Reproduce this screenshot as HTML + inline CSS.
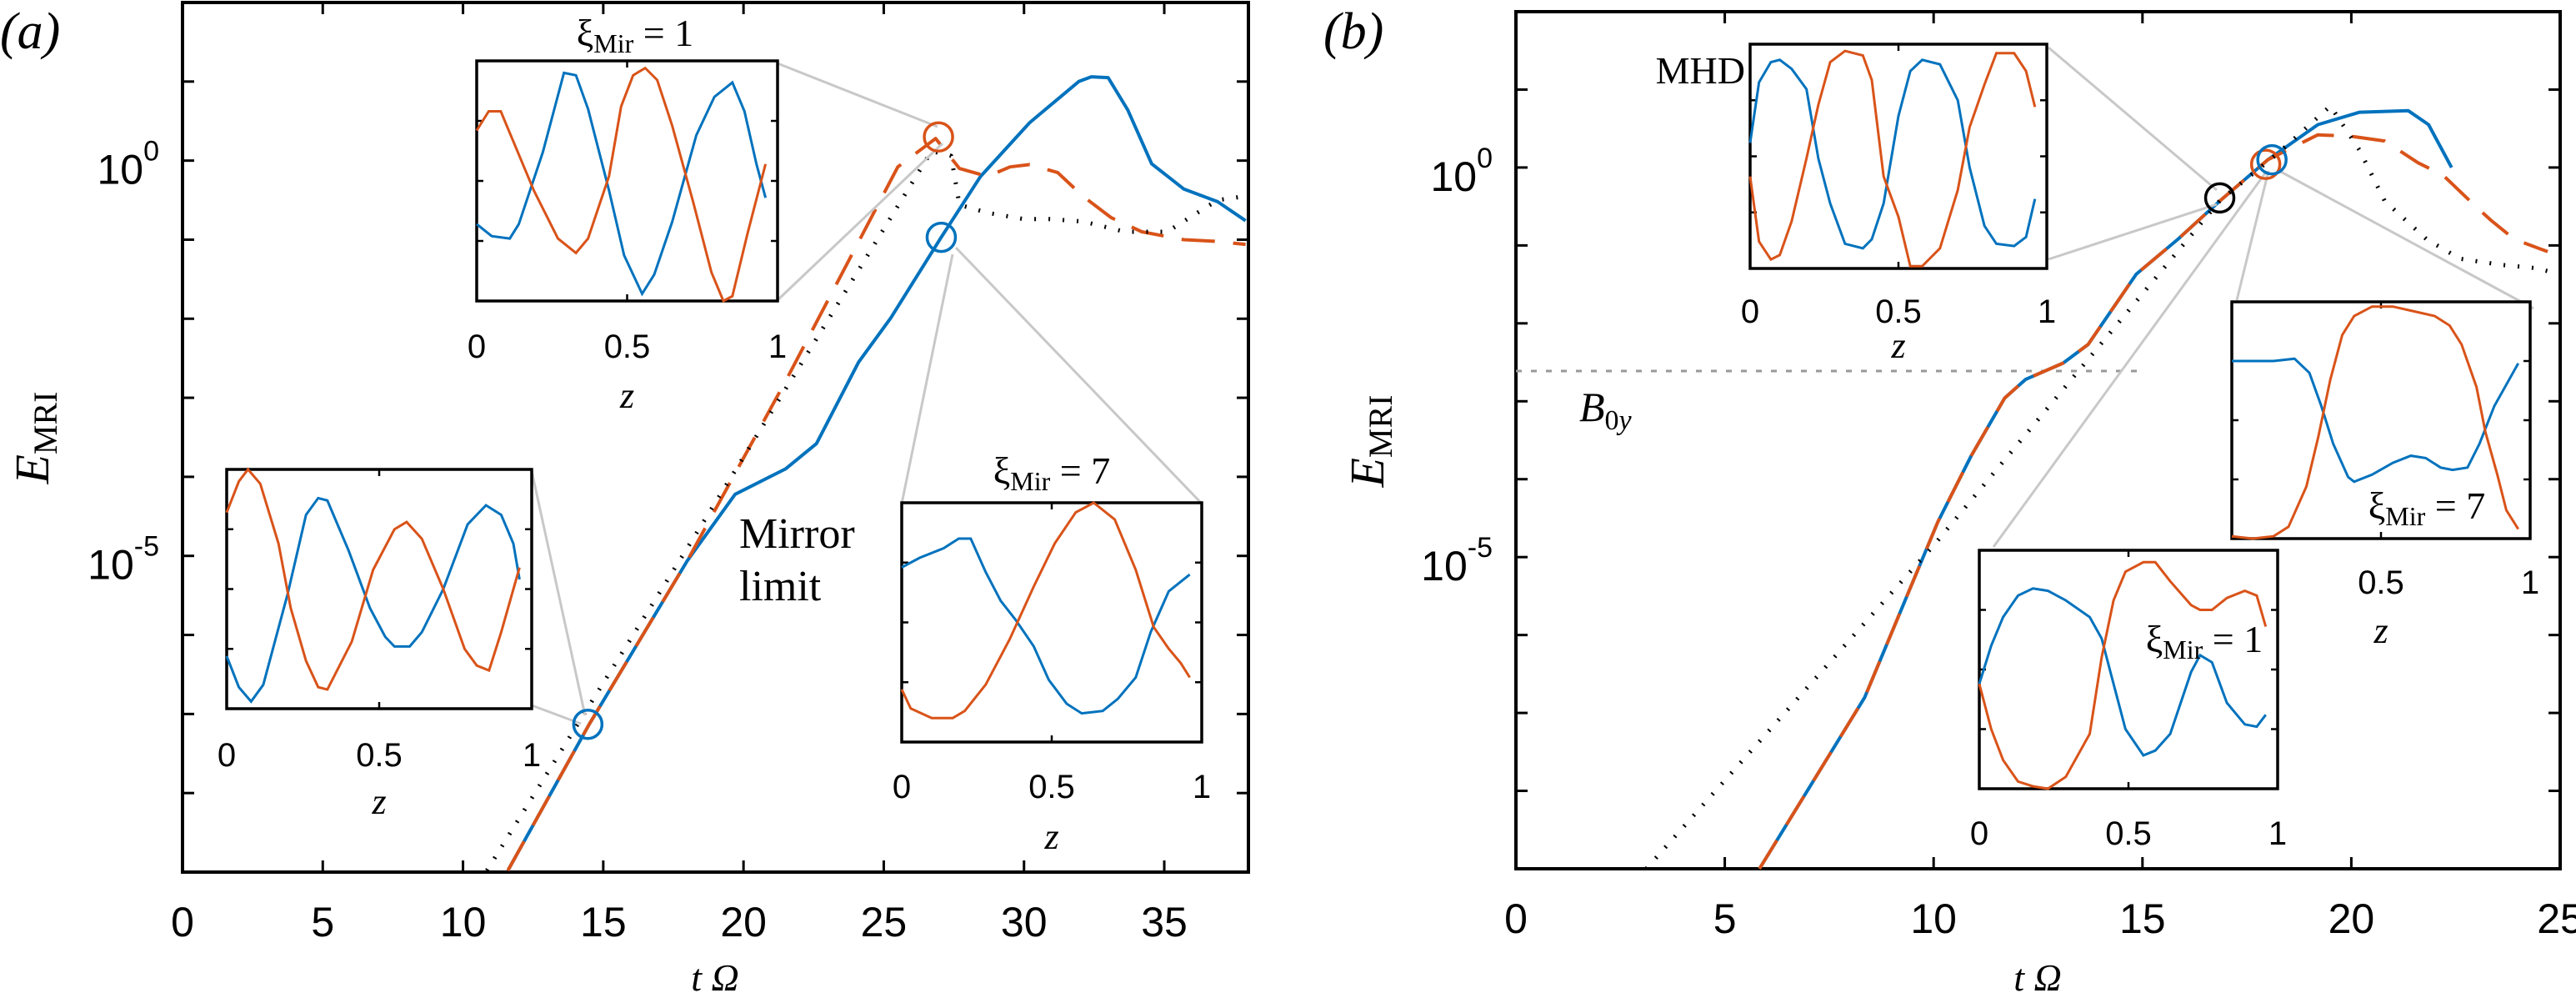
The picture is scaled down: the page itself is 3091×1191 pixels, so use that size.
<!DOCTYPE html>
<html><head><meta charset="utf-8"><style>
html,body{margin:0;padding:0;background:#fff;}
svg{display:block;}
.tk{font-family:"Liberation Sans",Arial,sans-serif;font-size:50px;fill:#000;}
.itk{font-family:"Liberation Sans",Arial,sans-serif;font-size:40px;fill:#000;}
.sf{font-family:"Liberation Serif","Times New Roman",serif;fill:#000;}
</style></head><body>
<svg id="fig" width="3091" height="1191" viewBox="0 0 3091 1191" xmlns="http://www.w3.org/2000/svg"></svg>
<script>
// ===== Panel (a) main series: time t and log10(E_MRI) =====
const aDotT   = [10.85, 14.4, 18, 22, 26.7, 27.4, 27.7, 28.7, 30.0, 30.9, 32.1, 33.6, 35.1, 36.9, 37.9];
const aDotLog = [-8.98, -6.95, -4.9, -2.6, 0.12, 0.06, -0.56, -0.66, -0.74, -0.74, -0.77, -0.9, -0.9, -0.5, -0.45];
const aOrT    = [11.6, 14.5, 18, 21.5, 25.5, 26.85, 27.7, 28.7, 29.5, 30.2, 31.2, 32.1, 33.1, 34.2, 35.7, 36.8, 37.9];
const aOrLog  = [-8.98, -7.13, -5.06, -2.79, -0.08, 0.28, -0.1, -0.2, -0.08, -0.05, -0.15, -0.45, -0.72, -0.9, -1.0, -1.02, -1.06];
const aBlT    = [11.6, 14.5, 18, 19.7, 21.5, 22.6, 24.1, 25.25, 27.05, 28.45, 30.2, 31.95, 32.4, 33.0, 33.7, 34.55, 35.7, 36.9, 37.9];
const aBlLog  = [-8.98, -7.13, -5.06, -4.22, -3.9, -3.58, -2.55, -1.99, -0.97, -0.2, 0.48, 1.0, 1.06, 1.05, 0.64, -0.04, -0.36, -0.52, -0.76];
// ===== Panel (b) main series =====
const bDotT   = [3.12, 10, 16.86, 18.24, 19.5, 20.2, 20.8, 21.8, 22.6, 23.6, 24.4, 25];
const bDotLog = [-9.0, -4.85, -0.42, 0.18, 0.79, 0.22, -0.43, -0.92, -1.17, -1.25, -1.29, -1.37];
const bBlT    = [5.83, 8.35, 10.1, 10.9, 11.7, 12.2, 13.1, 13.7, 14.85, 15.85, 16.85, 18.0, 19.2, 20.2, 21.36, 21.85, 22.4];
const bBlLog  = [-9.0, -6.8, -4.55, -3.7, -2.96, -2.72, -2.51, -2.27, -1.37, -0.92, -0.43, 0.1, 0.55, 0.71, 0.73, 0.55, 0.0];
const bOrT    = [5.83, 8.35, 10.1, 10.9, 11.7, 12.2, 13.1, 13.7, 14.85, 15.85, 16.85, 18.0, 19.2, 20.0, 20.8, 21.6, 22.2, 23.0, 23.35, 23.9, 24.7];
const bOrLog  = [-9.0, -6.8, -4.55, -3.7, -2.96, -2.72, -2.51, -2.27, -1.37, -0.92, -0.43, 0.1, 0.42, 0.4, 0.34, 0.06, -0.1, -0.51, -0.68, -0.92, -1.08];
// ===== Ticks =====
const aXTicks = [0, 5, 10, 15, 20, 25, 30, 35];
const bXTicks = [0, 5, 10, 15, 20, 25];
const yDecades = [2, 1, 0, -1, -2, -3, -4, -5, -6, -7, -8, -9];
const yLabelDecades = [0, -5];
const insetTicks = [0, 0.5, 1];
// ===== Inset profiles (z, normalized amplitude) =====
const a1Z  = [0,0.05,0.11,0.14,0.22,0.29,0.33,0.37,0.44,0.49,0.55,0.59,0.65,0.73,0.79,0.85,0.89,0.93,0.96];
const a1Bl = [0.32,0.27,0.26,0.32,0.62,0.95,0.94,0.8,0.46,0.19,0.03,0.11,0.33,0.69,0.85,0.91,0.79,0.57,0.43];
const a1OrZ= [0,0.04,0.08,0.11,0.19,0.27,0.33,0.37,0.44,0.48,0.52,0.56,0.6,0.65,0.72,0.78,0.82,0.85,0.9,0.96];
const a1Or = [0.71,0.79,0.79,0.7,0.46,0.26,0.2,0.26,0.52,0.81,0.94,0.97,0.92,0.73,0.41,0.12,0.0,0.02,0.28,0.57];
const a2Z  = [0,0.04,0.08,0.12,0.2,0.26,0.3,0.33,0.4,0.47,0.52,0.55,0.6,0.64,0.71,0.79,0.85,0.9,0.94,0.96];
const a2Bl = [0.22,0.09,0.03,0.1,0.48,0.81,0.88,0.87,0.66,0.42,0.3,0.26,0.26,0.32,0.5,0.77,0.85,0.81,0.69,0.54];
const a2OrZ= [0,0.04,0.07,0.11,0.17,0.21,0.26,0.3,0.33,0.41,0.48,0.55,0.59,0.64,0.71,0.78,0.82,0.86,0.9,0.96];
const a2Or = [0.82,0.95,1.0,0.94,0.69,0.42,0.2,0.09,0.08,0.28,0.58,0.75,0.78,0.71,0.5,0.25,0.18,0.16,0.32,0.59];
const a3Z  = [0,0.06,0.14,0.19,0.23,0.28,0.33,0.38,0.44,0.49,0.55,0.6,0.67,0.72,0.78,0.83,0.89,0.96];
const a3Bl = [0.73,0.77,0.81,0.85,0.85,0.71,0.59,0.51,0.4,0.26,0.16,0.12,0.13,0.18,0.27,0.46,0.63,0.7];
const a3OrZ= [0,0.03,0.1,0.17,0.21,0.28,0.36,0.44,0.51,0.58,0.64,0.71,0.78,0.84,0.89,0.93,0.96];
const a3Or = [0.22,0.14,0.1,0.1,0.13,0.24,0.43,0.65,0.83,0.96,1.0,0.93,0.72,0.48,0.39,0.33,0.27];
const bMZ  = [0,0.03,0.07,0.1,0.14,0.19,0.23,0.27,0.32,0.38,0.41,0.45,0.5,0.54,0.58,0.64,0.7,0.74,0.79,0.83,0.89,0.93,0.96];
const bMBl = [0.56,0.83,0.92,0.93,0.89,0.8,0.49,0.29,0.11,0.09,0.13,0.29,0.68,0.88,0.93,0.91,0.75,0.45,0.19,0.11,0.1,0.14,0.31];
const bMOr = [0.41,0.12,0.04,0.06,0.21,0.49,0.73,0.92,0.97,0.95,0.84,0.41,0.23,0.01,0.01,0.09,0.35,0.63,0.82,0.96,0.96,0.88,0.72];
const b1Z  = [0,0.04,0.08,0.13,0.18,0.23,0.29,0.37,0.41,0.45,0.49,0.55,0.59,0.64,0.71,0.74,0.78,0.83,0.89,0.93,0.96];
const b1Bl = [0.44,0.6,0.72,0.81,0.84,0.83,0.79,0.72,0.63,0.44,0.25,0.14,0.16,0.23,0.49,0.56,0.53,0.36,0.27,0.26,0.31];
const b1Or = [0.44,0.25,0.12,0.03,0.01,0.0,0.05,0.23,0.55,0.79,0.91,0.95,0.95,0.87,0.77,0.75,0.75,0.8,0.83,0.81,0.68];
const b7Z  = [0,0.06,0.14,0.21,0.26,0.3,0.34,0.39,0.41,0.47,0.54,0.6,0.65,0.7,0.74,0.79,0.83,0.88,0.96];
const b7Bl = [0.75,0.75,0.75,0.76,0.7,0.56,0.4,0.26,0.24,0.27,0.32,0.35,0.34,0.3,0.29,0.3,0.40,0.56,0.74];
const b7OrZ= [0,0.07,0.14,0.19,0.25,0.29,0.33,0.37,0.41,0.47,0.54,0.61,0.68,0.73,0.77,0.82,0.85,0.89,0.92,0.96];
const b7Or = [0.01,0.0,0.01,0.05,0.22,0.43,0.67,0.86,0.94,0.98,0.98,0.96,0.94,0.9,0.82,0.64,0.45,0.27,0.12,0.04];

const BLUE = "#0072BD", ORANGE = "#D95319";
const svg = document.getElementById('fig');
const NS = "http://www.w3.org/2000/svg";
function el(tag, attrs, parent) {
  const e = document.createElementNS(NS, tag);
  for (const k in attrs) e.setAttribute(k, attrs[k]);
  (parent || svg).appendChild(e);
  return e;
}
function makePanel(x0, x1, tmax, yT, yB) {
  return {
    x: t => x0 + (t / tmax) * (x1 - x0),
    y: l => yT + (2 - l) / 11 * (yB - yT),
    x0, x1, yT, yB
  };
}
const PA = makePanel(219, 1498, 38, 3, 1046);
const PB = makePanel(1819, 3072, 25, 14, 1042);

function pathD(P, ts, ls) {
  return ts.map((t, i) => (i ? 'L' : 'M') + P.x(t).toFixed(1) + ' ' + P.y(ls[i]).toFixed(1)).join(' ');
}
function series(P, ts, ls, style, name) {
  const p = el('path', Object.assign({ d: pathD(P, ts, ls), fill: 'none', 'stroke-linejoin': 'round' }, style));
  
  
  return p;
}
function axes(P, xticks, name) {
  const g = el('g', {});
  
  
  el('rect', { x: P.x0, y: P.yT, width: P.x1 - P.x0, height: P.yB - P.yT, fill: 'none', stroke: '#000', 'stroke-width': 4 }, g);
  xticks.forEach(t => {
    const x = P.x(t);
    el('line', { x1: x, y1: P.yB, x2: x, y2: P.yB - 14, stroke: '#000', 'stroke-width': 3 }, g);
    el('line', { x1: x, y1: P.yT, x2: x, y2: P.yT + 14, stroke: '#000', 'stroke-width': 3 }, g);
    const lb = el('text', { x: x, y: P.yB + 77, 'text-anchor': 'middle', class: 'tk' }, g);
    lb.textContent = t;
    
    
  });
  yDecades.forEach(d => {
    const y = P.y(d);
    if (y <= P.yT + 2 || y >= P.yB - 2) return;
    el('line', { x1: P.x0, y1: y, x2: P.x0 + 14, y2: y, stroke: '#000', 'stroke-width': 3 }, g);
    el('line', { x1: P.x1, y1: y, x2: P.x1 - 14, y2: y, stroke: '#000', 'stroke-width': 3 }, g);
  });
  yLabelDecades.forEach(d => {
    const y = P.y(d);
    const t = el('text', { x: P.x0 - 28, y: y + 28, 'text-anchor': 'end', class: 'tk' }, g);
    
    
    const a = el('tspan', {}, t); a.textContent = '10';
    const b = el('tspan', { dy: -28, 'font-size': 34 }, t); b.textContent = String(d).replace('-', '-');
  });
}
function circle(cx, cy, color, name) {
  const c = el('circle', { cx, cy, r: 17, fill: 'none', stroke: color, 'stroke-width': 3.5 });
  
  
}
function conn(x1, y1, x2, y2) {
  const l = el('line', { x1, y1, x2, y2, stroke: '#c8c8c8', 'stroke-width': 3 });
  
  
}
function inset(bx, by, bw, bh, zB, vB, zO, vO, name, labelY, zY, labels) {
  const g = el('g', {});
  
  
  el('rect', { x: bx, y: by, width: bw, height: bh, fill: '#fff', stroke: '#000', 'stroke-width': 3.5 }, g);
  const X = z => bx + z * bw, Y = v => by + bh - v * bh;
  [0.5].forEach(z => {
    el('line', { x1: X(z), y1: by, x2: X(z), y2: by + 8, stroke: '#000', 'stroke-width': 2.5 }, g);
    el('line', { x1: X(z), y1: by + bh, x2: X(z), y2: by + bh - 8, stroke: '#000', 'stroke-width': 2.5 }, g);
  });
  [0.25, 0.5, 0.75].forEach(v => {
    el('line', { x1: bx, y1: Y(v), x2: bx + 8, y2: Y(v), stroke: '#000', 'stroke-width': 2.5 }, g);
    el('line', { x1: bx + bw, y1: Y(v), x2: bx + bw - 8, y2: Y(v), stroke: '#000', 'stroke-width': 2.5 }, g);
  });
  const dB = zB.map((z, i) => (i ? 'L' : 'M') + X(z).toFixed(1) + ' ' + Y(vB[i]).toFixed(1)).join(' ');
  const dO = zO.map((z, i) => (i ? 'L' : 'M') + X(z).toFixed(1) + ' ' + Y(vO[i]).toFixed(1)).join(' ');
  const pb = el('path', { d: dB, fill: 'none', stroke: BLUE, 'stroke-width': 3 }, g);
  
  
  const po = el('path', { d: dO, fill: 'none', stroke: ORANGE, 'stroke-width': 3 }, g);
  
  
  insetTicks.forEach(z => {
    if (labels.indexOf(z) < 0) return;
    const t = el('text', { x: X(z), y: labelY + 15, 'text-anchor': 'middle', class: 'itk' }, g);
    t.textContent = z;
    
    
  });
  if (zY) {
    const t = el('text', { x: X(0.5), y: zY + 12, 'text-anchor': 'middle', class: 'sf', 'font-size': 44, 'font-style': 'italic' }, g);
    t.textContent = 'z';
    
    
  }
  return g;
}
function xiLabel(x, y, val, name) {
  const t = el('text', { x, y, 'text-anchor': 'middle', class: 'sf', 'font-size': 46 });
  
  
  const a = el('tspan', {}, t); a.textContent = 'ξ';
  const b = el('tspan', { 'font-size': 32, dy: 8 }, t); b.textContent = 'Mir';
  const c = el('tspan', { dy: -8 }, t); c.textContent = ' = ' + val;
}

// ---------- Panel (a) ----------
axes(PA, aXTicks, 'panel-a-axes');
series(PA, aBlT, aBlLog, { stroke: BLUE, 'stroke-width': 4 }, 'series-a-xi7');
series(PA, aOrT, aOrLog, { stroke: ORANGE, 'stroke-width': 4, 'stroke-dasharray': '40 22' }, 'series-a-xi1');
series(PA, aDotT, aDotLog, { stroke: '#000', 'stroke-width': 5, 'stroke-dasharray': '2 15' }, 'series-a-mhd');
conn(933, 76, 1125, 152); conn(933, 360, 1131, 172);
conn(638, 565, 702, 858); conn(638, 846, 697, 868);
conn(1082, 604, 1143, 305); conn(1442, 604, 1147, 297);
circle(PA.x(26.95), PA.y(0.3), ORANGE, 'marker-a-xi1');
circle(PA.x(27.05), PA.y(-0.97), BLUE, 'marker-a-xi7');
circle(PA.x(14.45), PA.y(-7.13), BLUE, 'marker-a-early');
inset(572, 73, 361, 288, a1Z, a1Bl, a1OrZ, a1Or, 'inset-a-xi1', 414, 477, [0, 0.5, 1]);
inset(272, 563, 366, 287, a2Z, a2Bl, a2OrZ, a2Or, 'inset-a-early', 904, 964, [0, 0.5, 1]);
inset(1082, 603, 360, 287, a3Z, a3Bl, a3OrZ, a3Or, 'inset-a-xi7', 942, 1006, [0, 0.5, 1]);
xiLabel(762, 55, 1, 'inset-a-xi1-title');
xiLabel(1262, 580, 7, 'inset-a-xi7-title');
let t = el('text', { x: 887, y: 657, class: 'sf', 'font-size': 52 }); t.textContent = 'Mirror';
 
t = el('text', { x: 887, y: 720, class: 'sf', 'font-size': 52 }); t.textContent = 'limit';
 

// ---------- Panel (b) ----------
axes(PB, bXTicks, 'panel-b-axes');
let bl = el('line', { x1: 1819, y1: 445, x2: 2567, y2: 445, stroke: '#999', 'stroke-width': 3, 'stroke-dasharray': '7 11' });
 
t = el('text', { x: 1895, y: 505, class: 'sf', 'font-size': 50, 'font-style': 'italic' });
 
el('tspan', {}, t).textContent = 'B';
let ts = el('tspan', { 'font-size': 34, dy: 10, 'font-style': 'normal' }, t); ts.textContent = '0';
ts = el('tspan', { 'font-size': 34, 'font-style': 'italic' }, t); ts.textContent = 'y';
series(PB, bBlT, bBlLog, { stroke: BLUE, 'stroke-width': 4 }, 'series-b-xi7');
series(PB, bOrT, bOrLog, { stroke: ORANGE, 'stroke-width': 4, 'stroke-dasharray': '40 22' }, 'series-b-xi1');
series(PB, bDotT, bDotLog, { stroke: '#000', 'stroke-width': 5, 'stroke-dasharray': '2 15' }, 'series-b-mhd');
conn(2458, 57, 2660, 228); conn(2458, 311, 2660, 245);
conn(2392, 656, 2720, 205);
conn(2684, 360, 2722, 205); conn(3040, 370, 2735, 205);
circle(PB.x(16.85), PB.y(-0.39), '#000', 'marker-b-mhd');
circle(PB.x(17.95), PB.y(0.04), ORANGE, 'marker-b-xi1');
circle(PB.x(18.1), PB.y(0.1), BLUE, 'marker-b-xi7');
inset(2100, 53, 356, 269, bMZ, bMBl, bMZ, bMOr, 'inset-b-mhd', 372, 417, [0, 0.5, 1]);
inset(2678, 362, 358, 284, b7Z, b7Bl, b7OrZ, b7Or, 'inset-b-xi7', 697, 759, [0.5, 1]);
inset(2375, 660, 358, 286, b1Z, b1Bl, b1Z, b1Or, 'inset-b-xi1', 998, null, [0, 0.5, 1]);
t = el('text', { x: 2094, y: 100, 'text-anchor': 'end', class: 'sf', 'font-size': 46 }); t.textContent = 'MHD';
 
xiLabel(2912, 622, 7, 'inset-b-xi7-title');
xiLabel(2645, 782, 1, 'inset-b-xi1-title');

// ---------- Shared labels ----------
[[0, 58, '(a)', 'panel-a-label'], [1588, 58, '(b)', 'panel-b-label']].forEach(a => {
  const e = el('text', { x: a[0], y: a[1], class: 'sf', 'font-size': 62, 'font-style': 'italic' });
  e.textContent = a[2];
  
  
});
[[858, 'x-axis-title-a'], [2445, 'x-axis-title-b']].forEach(a => {
  const e = el('text', { x: a[0], y: 1188, 'text-anchor': 'middle', class: 'sf', 'font-size': 46, 'font-style': 'italic' });
  e.textContent = 't Ω';
  
  
});
[[58, 525, 'y-axis-title-a'], [1660, 529, 'y-axis-title-b']].forEach(a => {
  const e = el('text', { x: 0, y: 0, 'text-anchor': 'middle', class: 'sf', 'font-size': 58, transform: 'translate(' + a[0] + ',' + a[1] + ') rotate(-90)' });
  
  
  el('tspan', { 'font-style': 'italic' }, e).textContent = 'E';
  el('tspan', { 'font-size': 40, dy: 10 }, e).textContent = 'MRI';
});
</script>
</body></html>
